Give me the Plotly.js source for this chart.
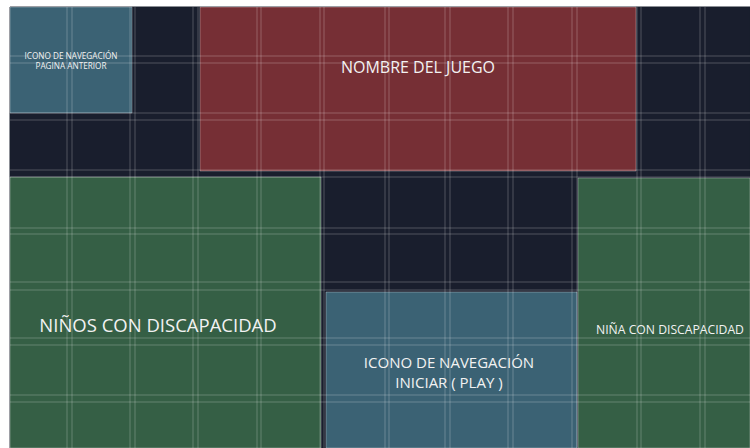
<!DOCTYPE html>
<html>
<head>
<meta charset="utf-8">
<script src="https://cdn.plot.ly/plotly-3.0.1.min.js"></script>
<style>html,body{margin:0;padding:0;background:#fff;}#chart{width:750px;height:448px;}</style>
</head>
<body>
<div id="chart"></div>
<script>
// Layout blocks (pixel-like units of the wireframe)
const blockNames = ["fondo", "icono_anterior", "nombre_juego", "ninos", "nina", "icono_play"];
const blockX0 = [10, 10, 200, 10, 578, 326];
const blockX1 = [750, 132, 636, 321, 750, 577];
const blockY0 = [7, 7, 7, 177, 178, 292];
const blockY1 = [448, 113, 171, 448, 448, 448];
const blockColors = ["#191e2d", "#3b6274", "#762f35", "#355f45", "#355f45", "#3b6274"];

// Grid guide lines
const gridColumns = [67, 72, 130, 135, 193, 198, 257, 261, 320, 324, 385, 389, 445, 450, 508, 513, 572, 577, 637, 641, 700, 705];
const gridRows = [56, 63, 113, 120, 170, 177, 228, 234, 282, 290, 338, 345, 395, 402];

// Labels
const labelTexts = [
  "ICONO DE NAVEGACIÓN<br>PAGINA ANTERIOR",
  "NOMBRE DEL JUEGO",
  "NIÑOS CON DISCAPACIDAD",
  "ICONO DE NAVEGACIÓN<br>INICIAR ( PLAY )",
  "NIÑA CON DISCAPACIDAD"
];
const labelX = [71, 418, 158, 449, 670];
const labelY = [62, 69, 327, 374, 331];
const labelSizes = [8.2, 16, 18.5, 15, 12.2];

const traces = [];
for (let i = 0; i < blockNames.length; i++) {
  traces.push({
    type: "scatter", mode: "lines", fill: "toself", hoverinfo: "skip",
    x: [blockX0[i], blockX1[i], blockX1[i], blockX0[i], blockX0[i]],
    y: [blockY0[i], blockY0[i], blockY1[i], blockY1[i], blockY0[i]],
    fillcolor: blockColors[i],
    line: {color: i === 0 ? blockColors[i] : "rgba(255,255,255,0.3)", width: 1},
    showlegend: false, name: blockNames[i]
  });
}
const gx = [], gy = [];
gridColumns.forEach(c => { gx.push(c, c, null); gy.push(7, 448, null); });
gridRows.forEach(r => { gx.push(10, 750, null); gy.push(r, r, null); });
traces.push({
  type: "scatter", mode: "lines", x: gx, y: gy, hoverinfo: "skip",
  line: {color: "rgba(255,255,255,0.24)", width: 1}, showlegend: false
});
traces.push({
  type: "scatter", mode: "text", x: labelX, y: labelY, text: labelTexts,
  textposition: "middle center", hoverinfo: "skip",
  textfont: {family: "Open Sans, sans-serif", size: labelSizes, color: "#f2f2f2"},
  showlegend: false
});

const layout = {
  width: 750, height: 448,
  margin: {l: 0, r: 0, t: 0, b: 0},
  paper_bgcolor: "#ffffff", plot_bgcolor: "#ffffff",
  xaxis: {range: [0, 750], visible: false, fixedrange: true},
  yaxis: {range: [448, 0], visible: false, fixedrange: true},
  showlegend: false
};
Plotly.newPlot("chart", traces, layout, {displayModeBar: false, staticPlot: true});
</script>
</body>
</html>
